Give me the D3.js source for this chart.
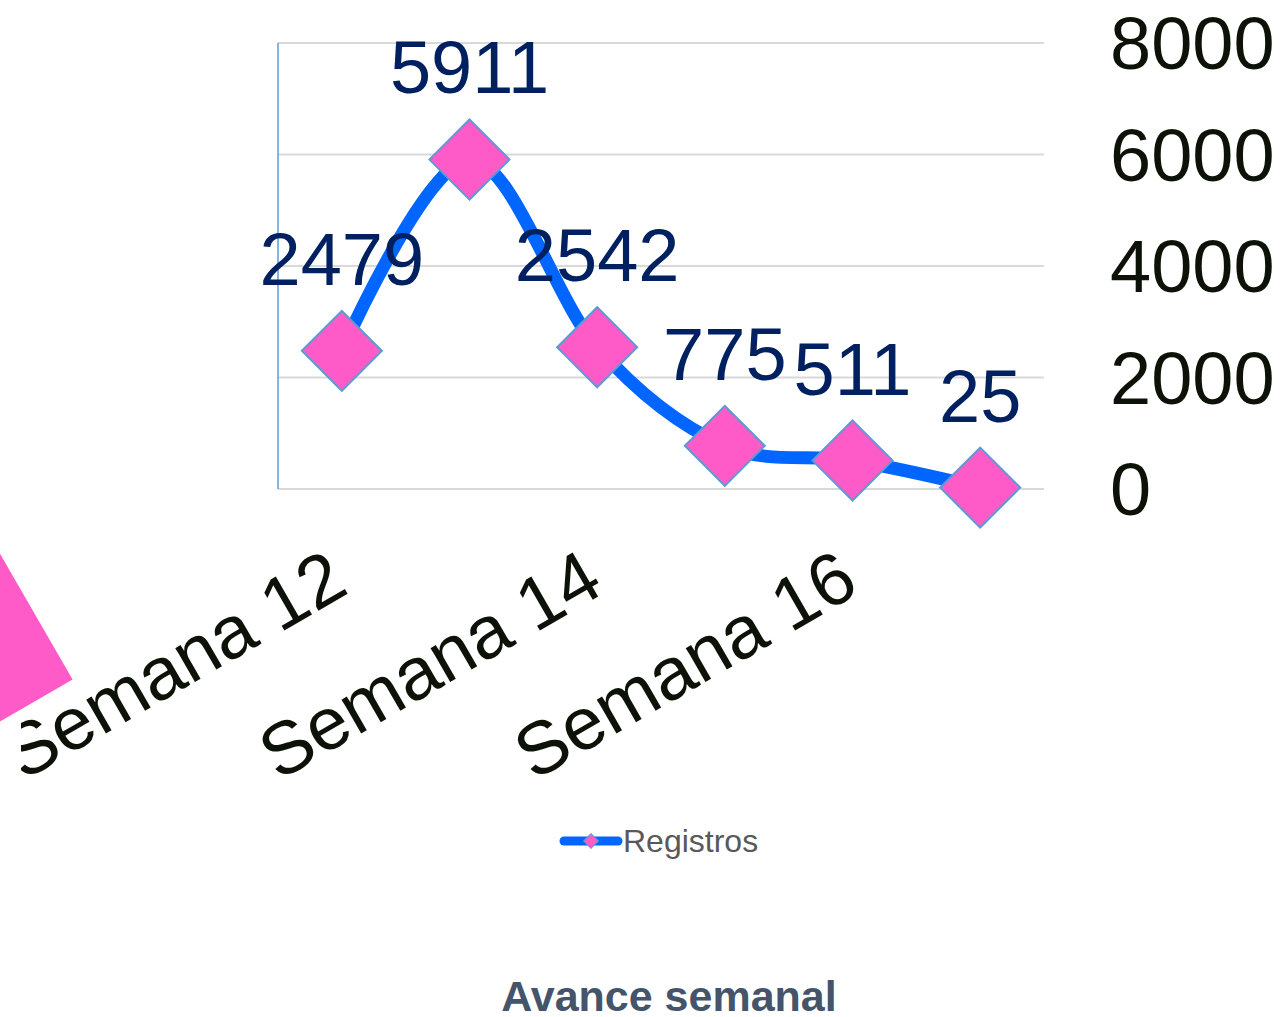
<!DOCTYPE html>
<html>
<head>
<meta charset="utf-8">
<script src="https://cdn.jsdelivr.net/npm/d3@7/dist/d3.min.js"></script>
<style>
  html, body { margin: 0; padding: 0; background: #fff; }
  svg { display: block; }
  text { font-family: "Liberation Sans", Arial, sans-serif; }
</style>
</head>
<body>
<script>
// Weekly registrations
const categories = ["Semana 12", "Semana 13", "Semana 14", "Semana 15", "Semana 16", "Semana 17"];
const registros = [2479, 5911, 2542, 775, 511, 25];
const yTicks = [0, 2000, 4000, 6000, 8000];
const shownCategoryLabels = ["Semana 12", "Semana 14", "Semana 16"];
const seriesName = "Registros";
const chartTitle = "Avance semanal";

const W = 1281, H = 1017;
const plot = { left: 278, right: 1044, top: 43, bottom: 489 };
const bigFont = 74;

const svg = d3.select("body").append("svg")
  .attr("width", W).attr("height", H);

const x = d3.scaleBand().domain(categories).range([plot.left, plot.right]);
const y = d3.scaleLinear().domain([0, 8000]).range([plot.bottom, plot.top]);
const cx = d => x(d) + x.bandwidth() / 2;

// Horizontal gridlines
svg.append("g").selectAll("line").data(yTicks).join("line")
  .attr("x1", plot.left).attr("x2", plot.right)
  .attr("y1", d => y(d)).attr("y2", d => y(d))
  .attr("stroke", "#d9d9d9").attr("stroke-width", 2);

// Left axis line
svg.append("line")
  .attr("x1", plot.left).attr("x2", plot.left)
  .attr("y1", y(8000)).attr("y2", y(0))
  .attr("stroke", "#5b9bd5").attr("stroke-width", 1.5);

// Value axis on the right
const yAxis = d3.axisRight(y).tickValues(yTicks).tickSize(0).tickPadding(0).tickFormat(d3.format("d"));
const yg = svg.append("g").attr("transform", `translate(1110,0)`).call(yAxis);
yg.select(".domain").remove();
yg.selectAll("text")
  .attr("x", 0).attr("dy", "0.35em")
  .attr("font-size", bigFont).attr("fill", "#0d1208")
  .style("font-family", '"Liberation Sans", Arial, sans-serif');

// Category labels, rotated
svg.append("defs").append("clipPath").attr("id", "catClip")
  .append("rect").attr("x", 21).attr("y", 0).attr("width", W).attr("height", H);
const xAxis = d3.axisBottom(x).tickValues(shownCategoryLabels).tickSize(0).tickPadding(0);
const xg = svg.append("g").attr("clip-path", "url(#catClip)")
  .append("g").attr("transform", `translate(0,592)`).call(xAxis);
xg.select(".domain").remove();
xg.selectAll(".tick text")
  .attr("y", 0).attr("dy", 0)
  .attr("text-anchor", "end")
  .attr("transform", "translate(9,0) rotate(-30)")
  .attr("font-size", bigFont).attr("fill", "#0d1208")
  .style("font-family", '"Liberation Sans", Arial, sans-serif');

// Smoothed series line
const pts = categories.map((c, i) => ({ c, v: registros[i] }));
const line = d3.line().x(d => cx(d.c)).y(d => y(d.v)).curve(d3.curveCardinal.tension(0));
svg.append("path").datum(pts)
  .attr("d", line)
  .attr("fill", "none").attr("stroke", "#0066ff")
  .attr("stroke-width", 13).attr("stroke-linejoin", "round").attr("stroke-linecap", "round");

// Diamond markers
const diamond = d3.symbol().type(d3.symbolSquare).size(3200);
svg.append("g").selectAll("path").data(pts).join("path")
  .attr("d", diamond)
  .attr("transform", d => `translate(${cx(d.c)},${y(d.v)}) rotate(45)`)
  .attr("fill", "#ff5bc8").attr("stroke", "#5b9bd5").attr("stroke-width", 2);

// Value labels
svg.append("g").selectAll("text").data(pts).join("text")
  .attr("x", d => cx(d.c)).attr("y", d => y(d.v) - 66)
  .attr("text-anchor", "middle")
  .attr("font-size", bigFont).attr("fill", "#002060")
  .text(d => d.v);

// Large marker swatch at the lower left
svg.append("path")
  .attr("d", d3.symbol().type(d3.symbolSquare).size(40000)())
  .attr("transform", "translate(-64,643) rotate(60)")
  .attr("fill", "#ff5bc8");

// Legend
const lg = svg.append("g").attr("transform", "translate(591,841)");
lg.append("line").attr("x1", -27).attr("x2", 27).attr("y1", 0).attr("y2", 0)
  .attr("stroke", "#0066ff").attr("stroke-width", 9).attr("stroke-linecap", "round");
lg.append("path").attr("d", d3.symbol().type(d3.symbolSquare).size(110)())
  .attr("transform", "rotate(45)")
  .attr("fill", "#ff5bc8").attr("stroke", "#5b9bd5").attr("stroke-width", 1);
lg.append("text").attr("x", 32).attr("y", 0).attr("dy", "0.35em")
  .attr("font-size", 32).attr("fill", "#595959").text(seriesName);

// Title
svg.append("text")
  .attr("x", 669).attr("y", 1011)
  .attr("text-anchor", "middle")
  .attr("font-size", 43).attr("font-weight", "bold").attr("fill", "#44546a")
  .text(chartTitle);
</script>
</body>
</html>
